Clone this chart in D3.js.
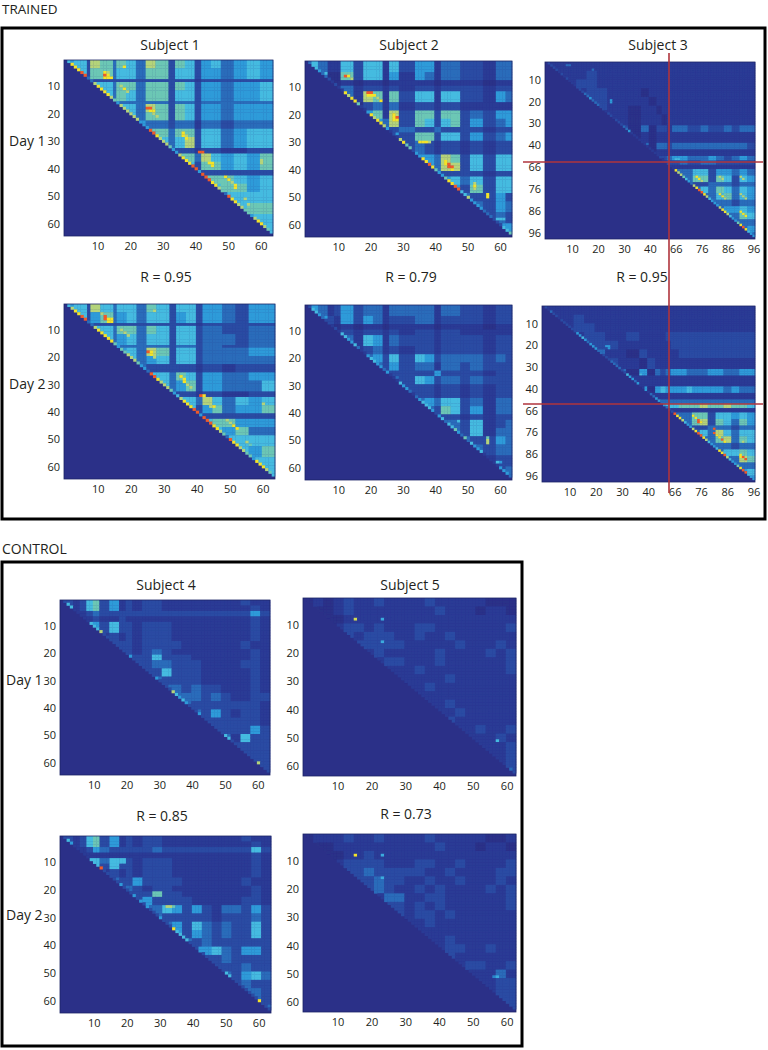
<!DOCTYPE html>
<html><head><meta charset="utf-8">
<script src="https://cdnjs.cloudflare.com/ajax/libs/d3/7.8.5/d3.min.js"></script>
<style>html,body{margin:0;padding:0;background:#fff}svg{display:block}text{font-family:"Open Sans",sans-serif;fill:#231f20}</style>
</head><body><svg id="c" width="768" height="1050"><defs><filter id="soft" x="-2%" y="-2%" width="104%" height="104%"><feGaussianBlur stdDeviation="0.5"/></filter></defs></svg>
<script>
// colour levels (jet as printed)
const levels = [0,1,2,3,4,5,6,7,8,9];
const levelColors = ["#2b3088","#2a3a95","#2a4ba3","#2a6cba","#2e9bd9","#45bbe0","#6cc7b5","#b5d47a","#f3e32a","#ef5a2a"];

const ticks64 = [10,20,30,40,50,60];
const ticks3 = [10,20,30,40,50,60,70,80];
const labels3 = ["10","20","30","40","66","76","86","96"];

// band edges (cells) for each subject
const edges1 = [0,3,7,8,11,15,16,19,22,25,28,32,34,37,40,42,45,48,52,56,60,64];
const edges2 = [0,4,7,9,11,15,18,21,24,26,29,34,37,40,42,45,48,51,55,59,62,64];
const edges3 = [0,4,8,12,16,20,24,29,32,37,40,43,45,47,49,52,55,57,60,63,66,69,72,75,78,81];
const edges4 = [0,2,4,6,8,10,12,15,18,20,22,25,28,31,34,37,40,43,46,49,52,55,58,61,64];
const edges5 = [0,3,6,9,12,15,18,21,24,27,30,33,36,39,42,45,48,51,54,57,60,63];

// upper-triangular band levels, right-aligned to the last column
const s1d1 = ["45 2 76 3 65 3 76 2 65 2 45 34 54","5 2 66 3 55 3 66 2 55 2 44 34 54","3 22 2 22 2 22 2 22 1 22 22 22","55 3 66 3 66 2 65 2 44 34 45","5 3 65 3 66 2 55 2 44 34 45","5 33 3 33 2 33 2 33 33 33","55 3 76 2 65 2 44 34 44","5 3 66 2 65 2 44 34 44","4 33 2 33 1 33 23 33","66 3 66 2 55 34 55","5 3 57 2 55 34 55","4 22 1 22 11 22","66 3 75 45 46","5 2 66 45 46","3 22 22 22","66 65 45","5 66 45","55 55","5 66","55","5"];
const s1d1Diag = ["58889933","78888764","77777744","49987776","44788899","49998876","39887766","47887655"];
const s1d1Hot = [[2,18,8],[5,12,9],[5,13,8],[4,12,8],[6,13,8],[6,14,8],[6,12,8],[4,13,7],[9,17,7],[10,18,8],[11,19,7],[17,25,9],[17,26,9],[18,26,8],[18,27,8],[19,27,7],[20,28,7],[26,36,8],[27,36,8],[28,37,8],[27,37,7],[29,37,7],[29,38,7],[33,41,9],[33,42,9],[37,44,8],[38,45,8],[37,45,8],[42,49,8],[43,50,8],[44,51,7],[45,52,8],[46,52,8],[50,55,7],[52,56,7],[36,60,7],[37,60,7]];
const s1d2 = ["45 2 75 3 55 3 65 2 55 2 44 32 44","5 2 46 3 45 3 55 2 45 2 44 32 44","3 22 2 22 2 22 2 22 1 22 22 22","55 3 66 3 65 2 55 2 33 22 33","5 3 45 3 55 2 55 2 33 32 33","5 33 3 33 2 33 2 33 22 33","45 3 76 2 55 2 33 33 44","5 3 45 2 55 2 33 33 33","3 22 2 22 1 22 12 22","55 3 65 2 44 33 44","5 3 46 2 44 33 35","4 22 1 22 11 22","55 3 75 35 45","5 2 46 34 46","3 22 22 22","56 64 44","5 46 33","55 55","5 46","55","5"];
const s1d2Diag = ["57889933","78888864","66777644","39987776","45788899","49998876","39887766","48887655"];
const s1d2Hot = [[4,12,9],[5,12,9],[5,13,8],[6,13,8],[6,14,8],[5,14,8],[3,11,7],[9,17,7],[10,18,7],[11,19,7],[17,25,9],[17,26,8],[18,26,8],[19,27,7],[2,27,7],[26,35,8],[27,36,8],[28,36,8],[29,37,7],[30,38,7],[33,41,9],[33,42,8],[37,45,8],[37,44,7],[42,49,7],[43,50,7],[44,51,8],[45,52,8],[50,55,7],[51,56,6],[36,60,7]];

const s2d1 = ["5 3 1 1 5 2 5 5 1 5 2 4 4 1 3 3 2 2 1 3 3","5 0 0 6 2 5 5 1 4 1 4 3 1 3 3 2 2 1 3 3","0 0 1 0 1 1 0 1 1 1 1 0 1 1 1 1 0 1 1","1 3 1 2 2 1 2 1 2 2 1 2 2 2 2 1 2 2","3 1 7 6 1 6 2 5 5 1 5 5 2 2 1 4 3","0 2 3 1 3 1 2 2 1 2 2 1 1 1 1 1","4 6 1 7 2 6 6 2 6 6 2 3 2 4 4","4 3 7 2 6 5 2 5 6 2 4 2 3 4","2 2 3 2 2 3 2 2 2 2 1 2 2","4 2 6 6 2 5 5 2 4 2 3 4","2 3 2 1 2 2 1 2 1 2 2","4 4 3 7 6 2 5 2 5 5","4 3 7 7 2 5 2 5 5","2 2 2 2 2 1 2 2","4 5 3 5 2 5 5","4 2 6 2 5 5","3 2 2 4 2","3 2 4 3","2 3 2","4 4","5"];
const s2d1Diag = ["35543321","21187886","11487887","41217866","24488986","44688995","57444433","32225565"];
const s2d1Hot = [[5,12,9],[5,13,8],[6,14,7],[11,19,9],[11,20,9],[12,20,8],[12,21,8],[13,22,7],[14,23,8],[12,19,8],[20,27,8],[20,28,9],[21,28,8],[19,27,8],[21,27,8],[29,35,8],[29,36,8],[29,37,8],[29,38,7],[36,43,8],[37,44,9],[38,44,9],[38,45,9],[39,45,8],[37,43,8],[36,44,7],[45,52,8],[46,52,7],[44,52,7],[48,56,8],[49,56,8],[57,59,5],[57,60,5],[57,61,5]];
const s2d2 = ["4 3 1 2 4 2 3 3 1 3 3 3 3 1 3 3 2 2 1 2 2","4 2 1 4 2 4 3 1 2 2 3 3 1 2 2 2 2 1 2 2","0 0 1 0 1 1 0 1 1 1 1 0 1 1 1 1 0 1 1","1 2 1 2 2 1 2 1 2 2 1 2 2 1 1 1 1 1","3 1 5 4 1 3 2 2 2 1 2 2 2 2 1 2 2","1 2 3 1 2 1 2 2 1 2 2 2 2 1 2 2","3 4 2 5 2 5 4 2 3 3 3 3 2 3 2","3 2 4 2 3 3 1 3 3 2 3 2 2 2","2 2 2 2 2 4 2 2 2 2 1 2 2","3 2 5 4 2 3 3 2 3 2 2 2","2 2 2 1 2 2 1 2 1 2 2","3 4 3 5 5 2 3 1 3 3","3 2 6 5 2 4 1 3 3","2 2 2 1 2 1 2 2","3 3 2 5 1 2 3","3 2 5 1 3 3","3 2 2 4 3","3 2 3 3","1 2 2","2 3","4"];
const s2d2Diag = ["25543221","21554453","11455443","41115443","13455542","45355673","63544511","11144432"];
const s2d2Hot = [[49,56,7],[50,56,7],[48,56,6],[57,59,5],[57,60,4],[46,47,4],[42,47,5],[44,52,5],[45,52,5]];

const s3d1 = ["11111 11111 11111 11111 11111","11121 11111 11111 11111 1111","12211 11111 11111 11111 111","12211 10111 11111 11111 11","22111 10111 11111 11111 1","21101 10111 11111 11111","11011 10111 11111 1111","20302 21332 23223 233","01011 11111 11111 11","30332 33333 33333 2","01111 11111 11111","22344 33343 2343","22232 23322 222","11111 11111 11","33355 24434 3","33662 65254","32233 3233","35365 354","3356354","33323 3","34454","3365","333","34","3"];
const s3d1Diag = ["222212121","112223343","332212212","223341111","111111121","121187765","437899875","444788754","468985443"];
const s3d1Hot = [[17,25,4],[18,25,4],[1,8,3],[1,9,3],[3,18,3],[52,58,8],[53,59,8],[54,60,7],[60,67,8],[61,68,8],[62,69,7],[52,67,7],[53,68,7],[52,75,7],[53,76,7],[60,75,7],[61,76,7],[62,77,7],[68,75,8],[69,76,8],[70,77,8],[44,50,5],[44,51,5]];
const s3d2 = ["11111 11111 11111 11111 11111","11211 11111 11111 11111 1111","12211 11111 11111 11111 111","12211 21111 22222 22222 22","22211 11111 22222 22222 2","31102 11111 22222 22222","21102 11111 11111 1111","30403 23443 33443 344","11111 11111 11111 11","40454 44544 44343 3","11111 11111 11111","33333 33333 3333","35566 67667 665","11111 11111 11","33366 25545 4","33672 65364","32233 3233","35375 355","3367365","33323 3","35565","3376","333","45","4"];
const s3d2Diag = ["213221222","222445434","443322233","332254434","114133443","432298875","447899875","445889754","468995443"];
const s3d2Hot = [[50,57,8],[51,58,8],[52,59,9],[53,59,9],[53,60,8],[60,67,8],[61,68,9],[62,69,8],[59,66,8],[58,65,9],[56,65,9],[52,75,6],[62,76,7],[68,75,8],[69,76,9],[70,77,9],[69,75,8],[18,24,4],[18,25,4],[19,25,4],[31,37,5]];

const s4d1 = ["32125 62412 12211 11111 1211","31256 24121 22111 11111 121","01232 22222 22222 22222 42","11211 21111 11111 11112 1","44252 21222 11111 11121","32522 12221 11111 1121","12121 22211 11111 121","22212 22211 11112 11","22123 21111 11112 1","32252 22111 11121","22332 22111 1221","22522 21111 121","32222 11111 21","33232 21112 1","33323 21122","32222 2221","32421 221","22222 21","22224 2","31522","2222","222","22","2"];
const s4d1Diag = ["25511111","55572222","22224222","22224222","27545422","24222222","25522222","22272222"];
const s4d2 = ["32125 62412 12211 11111 1211","31256 24121 22111 11111 121","01243 22222 32222 22222 52","11111 11111 11111 11112 1","45355 21222 11111 11121","42522 12221 11111 1121","12121 22211 11111 121","32242 22211 11112 11","23212 21111 11112 1","32262 21111 11121","24222 21111 1221","33542 42133 242","32222 21222 32","34253 23225 2","42432 32252","32322 2222","44532 442","22322 22","22232 2","32453","2322","332","32","3"];
const s4d2Diag = ["25411111","55592222","24222424","24222422","28555522","24222222","25522222","22282222"];
const s4d2Hot = [[25,32,7],[25,33,7],[25,34,6],[26,33,5]];

const s5d1 = ["01012 11211 11211 11100 0","00121 11111 11211 10110","00111 11111 11111 1111","12212 11122 11111 112","21222 11211 21111 11","22222 11111 21112 1","12111 11211 11212","12211 12111 1112","11121 11111 112","11111 21111 11","11211 11111 1","11111 11111","11211 1111","11211 111","21111 11","11211 2","11121","1112","112","12","2"];
const s5d1Hot = [[7,15,7.5],[7,23,4.5],[15,23,4.5],[50,57,5],[60,61,3],[61,61,3]];
const s5d2 = ["01112 11211 11211 11100 1","00111 11111 11211 10110","00112 11111 11111 1111","12222 11122 11211 112","22322 22211 21111 22","22322 11211 21112 1","23211 21211 11212","13311 22111 1112","22121 21111 112","21221 21111 11","11211 11111 1","11111 11111","11211 1111","12211 211","21111 11","12211 2","11131","1122","122","22","2"];
const s5d2Hot = [[7,15,8],[7,23,4.5],[15,23,4.5],[50,57,4.5],[50,56,3.5]];

const panels = [
 {rows:s1d1,diag:s1d1Diag,hot:s1d1Hot,edges:edges1,n:64,box:[64,60,273,236]},
 {rows:s1d2,diag:s1d2Diag,hot:s1d2Hot,edges:edges1,n:64,box:[64,304,275,479]},
 {rows:s2d1,diag:s2d1Diag,hot:s2d1Hot,edges:edges2,n:64,box:[305,61,512,237]},
 {rows:s2d2,diag:s2d2Diag,hot:s2d2Hot,edges:edges2,n:64,box:[305,305,512,480]},
 {rows:s3d1,diag:s3d1Diag,hot:s3d1Hot,edges:edges3,n:81,box:[545,62,755,239],t:ticks3,l:labels3,dy:-3},
 {rows:s3d2,diag:s3d2Diag,hot:s3d2Hot,edges:edges3,n:81,box:[542,306,755,482],t:ticks3,l:labels3,dy:-3},
 {rows:s4d1,diag:s4d1Diag,edges:edges4,n:64,box:[60,600,270,775]},
 {rows:s4d2,diag:s4d2Diag,hot:s4d2Hot,edges:edges4,n:64,box:[60,836,271,1013]},
 {rows:s5d1,hot:s5d1Hot,edges:edges5,n:63,box:[303,598,516,776]},
 {rows:s5d2,hot:s5d2Hot,edges:edges5,n:63,box:[303,834,516,1012]}
];

const texts = [
 ["TRAINED",2,14,13.5,"start"],["CONTROL",2,554,14,"start"],
 ["Subject 1",170,50,14,"middle"],["Subject 2",409,50,14,"middle"],["Subject 3",658,50,14,"middle"],
 ["R = 0.95",166,282,14,"middle"],["R = 0.79",411,282,14,"middle"],["R = 0.95",642,282,14,"middle"],
 ["Day 1",9,146,14,"start"],["Day 2",9,389,14,"start"],
 ["Subject 4",166,590,14,"middle"],["Subject 5",410,590,14,"middle"],
 ["R = 0.85",162,821,14,"middle"],["R = 0.73",406,819,14,"middle"],
 ["Day 1",6,685,14,"start"],["Day 2",6,920,14,"start"]
];

const color = d3.scaleLinear().domain(levels).range(levelColors).clamp(true);
const svg = d3.select("#c");

// outer frames
[[2,28,763,491],[2,562,520,484]].forEach(f=>svg.append("rect").attr("x",f[0]).attr("y",f[1]).attr("width",f[2]).attr("height",f[3]).attr("fill","none").attr("stroke","#000").attr("stroke-width",3));

panels.forEach(p=>{
  const [x0,y0,x1,y1]=p.box, n=p.n, idx=d3.range(n);
  const xb=d3.scaleBand().domain(idx).range([x0,x1]);
  const yb=d3.scaleBand().domain(idx).range([y0,y1]);
  const bandOf=d3.scaleThreshold().domain(p.edges.slice(1,-1)).range(d3.range(p.edges.length-1));
  const rows=p.rows.map(s=>s.replace(/\s/g,"").split("").map(Number));
  const nb=p.edges.length-1;
  const diag=p.diag?p.diag.join("").split("").map(Number):null;
  const cells=[];
  for(const r of idx) for(const c of idx){
    if(c<=r) continue;
    const row=rows[bandOf(r)]||[];
    let v=row[bandOf(c)-(nb-row.length)];
    if(v===undefined) v=0;
    if(diag&&c===r+1) v=diag[r];
    cells.push({r,c,v});
  }
  (p.hot||[]).forEach(h=>{const e=cells.find(d=>d.r===h[0]&&d.c===h[1]); if(e) e.v=h[2];});
  const g=svg.append("g");
  g.append("rect").attr("x",x0).attr("y",y0).attr("width",x1-x0).attr("height",y1-y0).attr("fill",color(0));
  g.append("g").attr("filter","url(#soft)").selectAll("rect").data(cells).join("rect")
    .attr("x",d=>xb(d.c)).attr("y",d=>yb(d.r))
    .attr("width",xb.bandwidth()+.3).attr("height",yb.bandwidth()+.3)
    .attr("fill",d=>color(d.v));
  g.append("rect").attr("x",x0).attr("y",y0).attr("width",x1-x0).attr("height",y1-y0).attr("fill","none").attr("stroke","#1d2566").attr("stroke-width",.8);
  const tv=p.t||ticks64, tl=p.l||tv.map(String);
  const xs=d3.scaleLinear().domain([.5,n+.5]).range([x0,x1]);
  const ys=d3.scaleLinear().domain([.5,n+.5]).range([y0,y1]);
  const fmt=(d,i)=>tl[i];
  const ax=g.append("g").attr("transform",`translate(2.5,${y1})`).call(d3.axisBottom(xs).tickValues(tv).tickFormat(fmt).tickSize(0).tickPadding(6));
  const ay=g.append("g").attr("transform",`translate(${x0},${p.dy||0})`).call(d3.axisLeft(ys).tickValues(tv).tickFormat(fmt).tickSize(0).tickPadding(4));
  [ax,ay].forEach(a=>{a.select(".domain").remove();a.selectAll("text").style("font-size","11px").style("font-family",'"Open Sans",sans-serif').attr("fill","#231f20");});
});

texts.forEach(t=>svg.append("text").text(t[0]).attr("x",t[1]).attr("y",t[2]).attr("font-size",t[3]).attr("text-anchor",t[4]));

// red separators over subject 3
const red="#b0343c";
[[669,53,669,493],[523,162,763,162],[523,404,763,404]].forEach(l=>svg.append("line").attr("x1",l[0]).attr("y1",l[1]).attr("x2",l[2]).attr("y2",l[3]).attr("stroke",red).attr("stroke-width",1.6));
</script></body></html>
